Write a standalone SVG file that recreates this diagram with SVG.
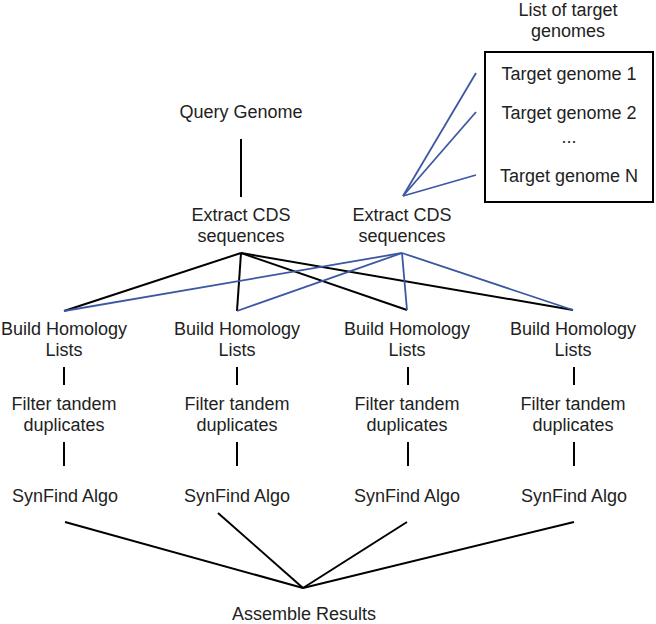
<svg xmlns="http://www.w3.org/2000/svg" width="656" height="624" viewBox="0 0 656 624">
<style>
text{font-family:"Liberation Sans",Arial,sans-serif;font-size:18px;fill:#222;text-anchor:middle}
.k{stroke:#000;stroke-width:2;fill:none;stroke-linecap:butt}
.b{stroke:#3d58a3;stroke-width:1.8;fill:none}
</style>
<rect width="656" height="624" fill="#fff"/>
<g id="connectors">
<line class="k" x1="241" y1="139" x2="241" y2="197"/>
<line class="k" x1="241" y1="253" x2="64" y2="311"/>
<line class="k" x1="241" y1="253" x2="237" y2="311"/>
<line class="k" x1="241" y1="253" x2="407" y2="310"/>
<line class="k" x1="241" y1="253" x2="573" y2="310"/>
<line class="b" x1="402" y1="253" x2="64" y2="311"/>
<line class="b" x1="402" y1="253" x2="237" y2="311"/>
<line class="b" x1="402" y1="253" x2="407" y2="310"/>
<line class="b" x1="402" y1="253" x2="573" y2="310"/>
<line class="b" x1="403" y1="196" x2="476" y2="73"/>
<line class="b" x1="403" y1="196" x2="476" y2="112"/>
<line class="b" x1="403" y1="196" x2="476" y2="175"/>
<line class="k" x1="64" y1="367" x2="64" y2="385"/>
<line class="k" x1="237" y1="367" x2="237" y2="385"/>
<line class="k" x1="408" y1="367" x2="408" y2="385"/>
<line class="k" x1="574" y1="367" x2="574" y2="385"/>
<line class="k" x1="64" y1="442" x2="64" y2="466"/>
<line class="k" x1="237" y1="442" x2="237" y2="466"/>
<line class="k" x1="408" y1="442" x2="408" y2="466"/>
<line class="k" x1="574" y1="442" x2="574" y2="466"/>
<line class="k" x1="65" y1="522" x2="303" y2="588"/>
<line class="k" x1="218" y1="513" x2="303" y2="588"/>
<line class="k" x1="407" y1="522" x2="303" y2="588"/>
<line class="k" x1="574" y1="522" x2="303" y2="588"/>
</g>
<g id="query"><text x="241" y="118">Query Genome</text></g>
<g id="extract1"><text x="241" y="221">Extract CDS</text><text x="241" y="242">sequences</text></g>
<g id="extract2"><text x="402" y="221">Extract CDS</text><text x="402" y="242">sequences</text></g>
<g id="targets">
<text x="568" y="16">List of target</text><text x="568" y="37">genomes</text>
<rect x="485" y="52" width="168" height="150" fill="none" stroke="#000" stroke-width="2"/>
<text x="569" y="80">Target genome 1</text>
<text x="569" y="119">Target genome 2</text>
<text x="569" y="143">...</text>
<text x="569" y="182">Target genome N</text>
</g>
<g id="build1"><text x="64" y="335">Build Homology</text><text x="64" y="356">Lists</text></g>
<g id="build2"><text x="237" y="335">Build Homology</text><text x="237" y="356">Lists</text></g>
<g id="build3"><text x="407" y="335">Build Homology</text><text x="407" y="356">Lists</text></g>
<g id="build4"><text x="573" y="335">Build Homology</text><text x="573" y="356">Lists</text></g>
<g id="filter1"><text x="64" y="410">Filter tandem</text><text x="64" y="431">duplicates</text></g>
<g id="filter2"><text x="237" y="410">Filter tandem</text><text x="237" y="431">duplicates</text></g>
<g id="filter3"><text x="407" y="410">Filter tandem</text><text x="407" y="431">duplicates</text></g>
<g id="filter4"><text x="573" y="410">Filter tandem</text><text x="573" y="431">duplicates</text></g>
<g id="synfind1"><text x="65" y="502">SynFind Algo</text></g>
<g id="synfind2"><text x="237" y="502">SynFind Algo</text></g>
<g id="synfind3"><text x="407" y="502">SynFind Algo</text></g>
<g id="synfind4"><text x="574" y="502">SynFind Algo</text></g>
<g id="assemble"><text x="304" y="620">Assemble Results</text></g>
</svg>
